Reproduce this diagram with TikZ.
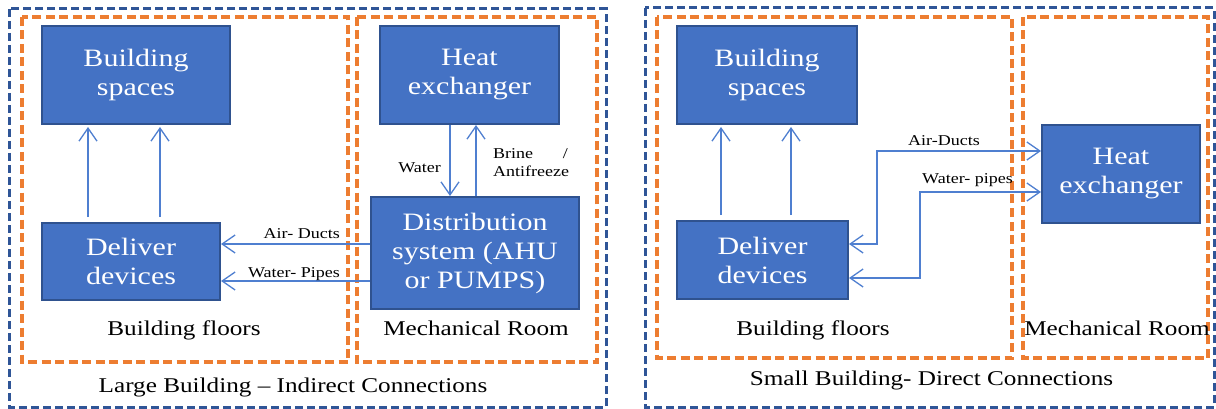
\documentclass[tikz,border=0pt]{standalone}
\usepackage{fontspec}
\setmainfont[FakeStretch=1.2]{Liberation Serif}
\usetikzlibrary{arrows.meta,calc}
\definecolor{boxfill}{HTML}{4472C4}
\definecolor{boxline}{HTML}{2F528F}
\definecolor{orangec}{HTML}{ED7D31}
\definecolor{bluec}{HTML}{2F5597}
\definecolor{linec}{HTML}{4F7FD0}
\tikzset{
  box/.style={draw=boxline, fill=boxfill, line width=2pt, text=white, align=center,
    inner sep=0pt, font=\fontsize{25}{29}\selectfont},
  zone/.style={draw=orangec, line width=3.4pt, dash pattern=on 9pt off 4.5pt},
  frame/.style={draw=bluec, line width=3pt, dash pattern=on 8pt off 4pt},
  arr/.style={draw=linec, line width=1.3pt, -{Straight Barb[length=13pt,width=18pt,line width=1.3pt]}},
  darr/.style={draw=linec, line width=1.3pt, {Straight Barb[length=13pt,width=18pt,line width=1.3pt]}-{Straight Barb[length=13pt,width=18pt,line width=1.3pt]}},
  lab/.style={inner sep=0pt, font=\fontsize{15}{18}\selectfont},
  zlab/.style={inner sep=0pt, font=\fontsize{21}{25}\selectfont, anchor=base},
}
\begin{document}
\begin{tikzpicture}[x=1pt,y=-1pt]
\useasboundingbox (0,0) rectangle (1216,409);
% ---------- Left panel ----------
\draw[frame] (9,9) rectangle (606,407);
\draw[zone] (22,17) rectangle (348,362);
\draw[zone] (357,17) rectangle (597,362);
\node[box, minimum width=188pt, minimum height=98pt] (bsL) at (136,75) {Building\\spaces};
\node[box, minimum width=178pt, minimum height=77pt] (ddL) at (131,261.5) {Deliver\\devices};
\node[box, minimum width=179pt, minimum height=98pt] (hxL) at (469.5,75) {Heat\\exchanger};
\node[box, minimum width=208pt, minimum height=112pt] (dsL) at (475,253) {Distribution\\system (AHU\\or PUMPS)};
\draw[arr] ([xshift=47pt,yshift=5pt]ddL.north west) -- ([xshift=47pt,yshift=-2pt]bsL.south west);
\draw[arr] ([xshift=119pt,yshift=5pt]ddL.north west) -- ([xshift=119pt,yshift=-2pt]bsL.south west);
\draw[arr] ([xshift=71pt]hxL.south west) -- ([xshift=71pt]hxL.south west |- dsL.north);
\draw[arr] ([xshift=97pt]hxL.south west |- dsL.north) -- ([xshift=97pt]hxL.south west);
\draw[arr] ([yshift=9pt]dsL.west) -- ([yshift=9pt]dsL.west -| ddL.east);
\draw[arr] ([yshift=-28pt]dsL.west) -- ([yshift=-28pt]dsL.west -| ddL.east);
\node[lab, anchor=base east] (airL) at (340,238) {Air- Ducts};
\node[lab, anchor=base east] (watL) at (340,277) {Water- Pipes};
\node[lab, anchor=base east] (water) at (441,173) {Water};
\node[lab, anchor=base west] (brine) at (493,159) {Brine};
\node[lab, anchor=base east] (slash) at (568,159) {/};
\node[lab, anchor=base west] (anti) at (493,176) {Antifreeze};
\node[zlab] (bfL) at (184,335) {Building floors};
\node[zlab] (mrL) at (476,335) {Mechanical Room};
\node[zlab] (capL) at (293,392) {Large Building -- Indirect Connections};
% ---------- Right panel ----------
\draw[frame] (645,8) rectangle (1214,407);
\draw[zone] (657,17) rectangle (1012,358);
\draw[zone] (1023,17) rectangle (1208,358);
\node[box, minimum width=180pt, minimum height=98pt] (bsR) at (767,75) {Building\\spaces};
\node[box, minimum width=171pt, minimum height=78pt] (ddR) at (762.5,260) {Deliver\\devices};
\node[box, minimum width=158pt, minimum height=98pt] (hxR) at (1121,174) {Heat\\exchanger};
\draw[arr] ([xshift=45pt,yshift=5pt]ddR.north west) -- ([xshift=45pt,yshift=-2pt]bsR.south west);
\draw[arr] ([xshift=115pt,yshift=5pt]ddR.north west) -- ([xshift=115pt,yshift=-2pt]bsR.south west);
\draw[darr] ([yshift=16pt]ddR.east) -- ++(28,0) |- ([yshift=23pt]hxR.west);
\draw[darr] ([yshift=-18pt]ddR.east) -- ++(71,0) |- ([yshift=-18pt]hxR.west);
\node[lab, anchor=base west] (airR) at (908,146) {Air-Ducts};
\node[lab, anchor=base west] (watR) at (922,184) {Water- pipes};
\node[zlab] (bfR) at (813,335) {Building floors};
\node[zlab] (mrR) at (1117,335) {Mechanical Room};
\node[zlab] (capR) at (931.5,385) {Small Building- Direct Connections};
\end{tikzpicture}
\end{document}
